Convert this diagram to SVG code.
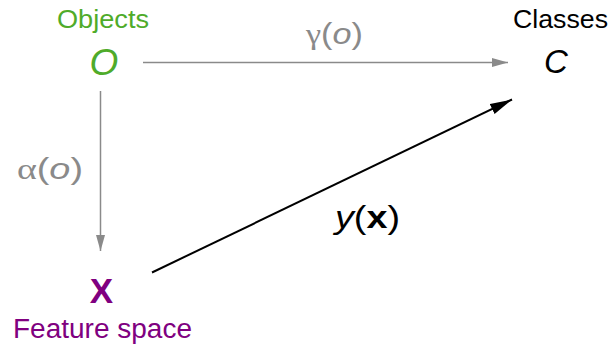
<svg xmlns="http://www.w3.org/2000/svg" width="614" height="344" viewBox="0 0 614 344">
<style>
text{font-family:"Liberation Sans",Arial,sans-serif;text-anchor:middle}
.green{fill:#4fab2a}
.purple{fill:#800080}
.gray{fill:#8a8a8a}
.lbl{font-size:26px}
.it{font-style:italic}
.gr{font-family:"Liberation Serif","DejaVu Serif",serif}
</style>
<defs>
<marker id="ag" markerUnits="userSpaceOnUse" markerWidth="16" markerHeight="10" refX="16" refY="5" orient="auto">
<path d="M0,0.5 L16,5 L0,9.5 Z" fill="#8a8a8a"/>
</marker>
<marker id="ab" markerUnits="userSpaceOnUse" markerWidth="22" markerHeight="14" refX="22" refY="7" orient="auto">
<path d="M0,1.5 L22,7 L0,12.5 Z" fill="#000"/>
</marker>
</defs>
<rect width="614" height="344" fill="#fff"/>
<g id="connectors">
<line x1="143" y1="62.5" x2="508" y2="62.5" stroke="#8a8a8a" stroke-width="1.5" marker-end="url(#ag)"/>
<line x1="100.5" y1="91" x2="100.5" y2="251" stroke="#8a8a8a" stroke-width="1.5" marker-end="url(#ag)"/>
<line x1="152" y1="272.5" x2="512" y2="99.5" stroke="#000" stroke-width="2" marker-end="url(#ab)"/>
<text class="gray" x="334.5" y="44" font-size="30" textLength="57" lengthAdjust="spacingAndGlyphs"><tspan class="gr">γ</tspan>(<tspan class="it">o</tspan>)</text>
<text class="gray" x="50" y="179" font-size="30" textLength="66" lengthAdjust="spacingAndGlyphs"><tspan class="gr">α</tspan>(<tspan class="it">o</tspan>)</text>
<text x="367.5" y="228" font-size="31" textLength="65" lengthAdjust="spacingAndGlyphs"><tspan class="it">y</tspan>(<tspan font-weight="bold">x</tspan>)</text>
</g>
<g id="objects">
<text class="green lbl" x="103" y="28" textLength="92" lengthAdjust="spacingAndGlyphs">Objects</text>
<text class="green it" x="104" y="75" font-size="37">O</text>
</g>
<g id="classes">
<text class="lbl" x="560.5" y="28" textLength="95" lengthAdjust="spacingAndGlyphs">Classes</text>
<text class="it" x="556" y="73" font-size="33">C</text>
</g>
<g id="feature-space">
<text class="purple" x="101.5" y="303" font-size="35" font-weight="bold">X</text>
<text class="purple" x="102.5" y="338" font-size="27" textLength="179" lengthAdjust="spacingAndGlyphs">Feature space</text>
</g>
</svg>
